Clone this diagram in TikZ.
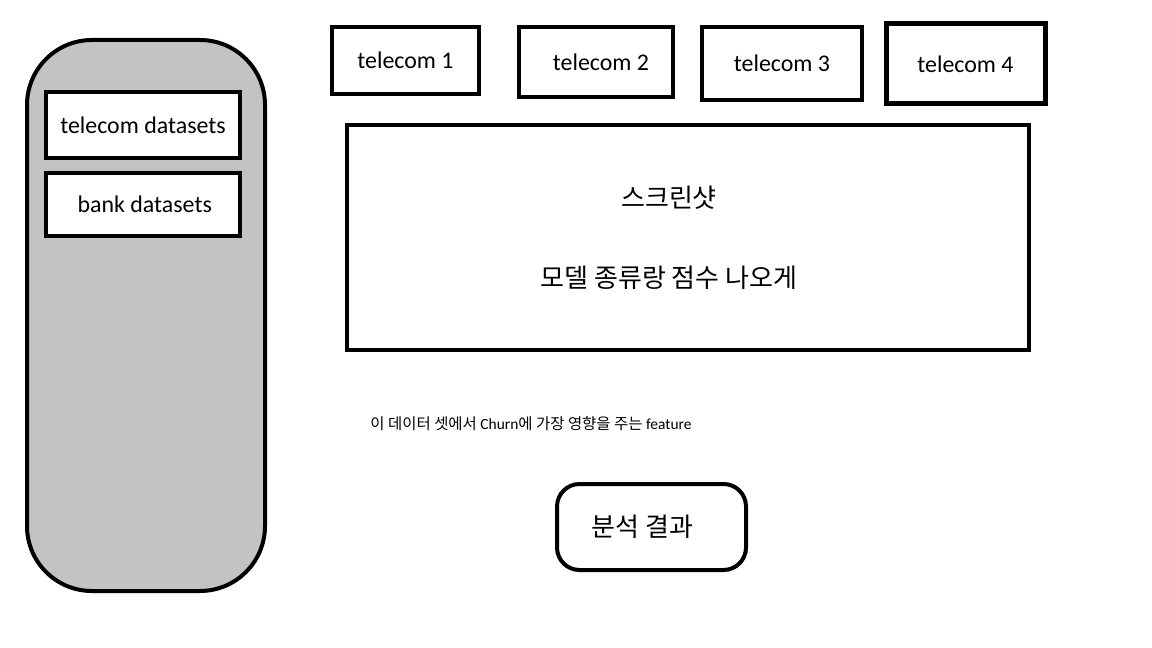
\documentclass[tikz,border=0pt]{standalone}
\usepackage{fontspec}
\setmainfont{Carlito}
\newfontfamily\kr{Noto Sans CJK KR}
\definecolor{panelgray}{HTML}{C3C3C3}
\begin{document}
\begin{tikzpicture}[
  x=0.02cm, y=-0.02cm,
  box/.style={draw, line width=0.08cm, inner sep=0pt, font=\fontsize{13.6}{16}\selectfont},
  tab/.style={box, text height=0.95em, text depth=0pt},
  krtext/.style={font=\kr\fontsize{14.8}{17}\selectfont}
]
\useasboundingbox (0,0) rectangle (1152,648);
% side panel with the datasets
\node[box, fill=panelgray, rounded corners=1.3cm, minimum width=238*0.02cm, minimum height=551*0.02cm] (panel) at (146,315.5) {};
\node[box, fill=white, minimum width=194*0.02cm, minimum height=66*0.02cm] (tele) at (143,125) {telecom datasets};
\node[box, fill=white, minimum width=194*0.02cm, minimum height=63*0.02cm] (bank) at (143,204.5) {\kern0.07cm bank datasets};

% telecom tabs
\node[tab, minimum width=147*0.02cm, minimum height=67*0.02cm] (t1) at (405.5,60.5) {telecom 1};
\node[tab, minimum width=154*0.02cm, minimum height=70*0.02cm] (t2) at (596,62) {\kern0.2cm telecom 2};
\node[tab, minimum width=160*0.02cm, minimum height=73*0.02cm] (t3) at (782,63.5) {telecom 3};
\node[tab, line width=0.1cm, minimum width=159*0.02cm, minimum height=80*0.02cm] (t4) at (965.5,64) {telecom 4};

% screenshot area
\node[box, minimum width=682*0.02cm, minimum height=225*0.02cm] (shot) at (688,237.5) {};
\node[krtext] (shottitle) at (669,198) {스크린샷};
\node[krtext] (shotnote) at (669,278) {모델 종류랑 점수 나오게};

\node[font=\fontsize{8.8}{11}\selectfont] (feat) at (531,424) {{\kr 이 데이터 셋에서} Churn{\kr 에 가장 영향을 주는} feature};

\node[tab, krtext, text height=1.1em, rounded corners=0.45cm, minimum width=189*0.02cm, minimum height=86*0.02cm] (result) at (651.5,527) {분석 결과\kern0.36cm};
\end{tikzpicture}
\end{document}
